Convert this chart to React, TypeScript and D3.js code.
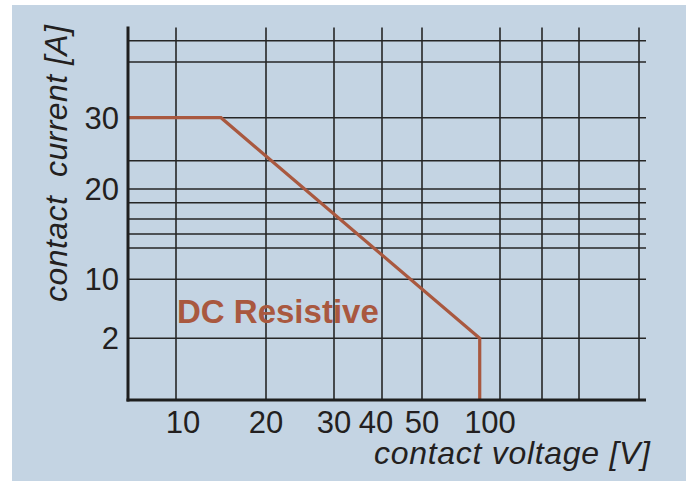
import React from 'react';
import * as d3 from 'd3';

// voltage knots of the (hand drawn, non uniform) x grid
const xGridValues = [10, 20, 30, 40, 50, 100, 150, 200, 300];
const xTickLabels = [10, 20, 30, 40, 50, 100];
// current knots of the y grid
const yGridValues = [2, 10, 12, 14, 16, 18, 20, 25, 30, 40, 50];
const yTickLabels = [2, 10, 20, 30];

// DC resistive load limit curve
const curveVoltage = [7, 15, 87, 87];
const curveCurrent = [30, 30, 2, 0];

const W = 696;
const H = 481;
const RED = '#a9583f';
const INK = '#231f20';

// pixel knots for the piecewise scales (drawing is not a true log scale)
const xDomain = [7, ...xGridValues, 320];
const xRange = [128, 176, 266, 334, 382, 422, 500, 542, 579, 639, 646];
const yDomain = [0, ...yGridValues, 55];
const yRange = [400, 338.3, 279.3, 248, 234, 219, 202.7, 189, 160.7, 117.7, 62, 40.7, 26.5];

// labels in the source sit a little off their grid lines
const tickNudge: Record<number, number> = { 10: 7, 40: -6, 100: -10 };

export default function App() {
  const x = d3.scaleLinear().domain(xDomain).range(xRange);
  const y = d3.scaleLinear().domain(yDomain).range(yRange);

  const pts = curveVoltage.map((v, i) => ({ v, a: curveCurrent[i] }));
  const line = d3.line<{ v: number; a: number }>()
    .x(d => x(d.v))
    .y(d => y(d.a));

  const x0 = x(xDomain[0]);
  const x1 = x(xDomain[xDomain.length - 1]);
  const y0 = y(0);
  const yTop = y(yDomain[yDomain.length - 1]);

  return (
    <div style={{ position: 'absolute', left: 0, top: 0 }}>
      <svg width={W} height={H} style={{ display: 'block', fontFamily: 'Liberation Sans, Arial, sans-serif' }}>
        <rect x={0} y={0} width={W} height={H} fill="#ffffff" />
        <rect x={12} y={5} width={674} height={H - 5} fill="#c4d4e3" />

        {/* horizontal grid */}
        {yGridValues.map(v => (
          <line key={'h' + v} x1={x0} x2={x1} y1={y(v)} y2={y(v)} stroke="#262626" strokeWidth={1.6} />
        ))}
        {/* vertical grid */}
        {xGridValues.map(v => (
          <line key={'v' + v} x1={x(v)} x2={x(v)} y1={yTop + 1} y2={y0} stroke="#262626" strokeWidth={1.6} />
        ))}

        {/* curve */}
        <path d={line(pts) || ''} fill="none" stroke={RED} strokeWidth={3.2} strokeLinejoin="miter" />

        {/* axes */}
        <line x1={x0} x2={x0} y1={yTop} y2={y0 + 1.5} stroke="#1e1e1e" strokeWidth={3} />
        <line x1={x0 - 1.5} x2={x1} y1={y0} y2={y0} stroke="#1e1e1e" strokeWidth={3} />

        {/* y tick labels */}
        {yTickLabels.map(v => (
          <text key={'yl' + v} x={119} y={y(v)} dy="0.36em" textAnchor="end" fontSize={31} fill={INK}>
            {v}
          </text>
        ))}
        {/* x tick labels */}
        {xTickLabels.map(v => (
          <text key={'xl' + v} x={x(v) + (tickNudge[v] || 0)} y={433} textAnchor="middle" fontSize={31} fill={INK}>
            {v}
          </text>
        ))}

        <text x={177} y={323} fontSize={33} fontWeight="bold" fill={RED}>DC Resistive</text>

        <text x={650} y={464} textAnchor="end" fontSize={32} fontStyle="italic" fill={INK}
          textLength={276} lengthAdjust="spacing">contact voltage [V]</text>

        <text transform="translate(67,302) rotate(-90)" fontSize={32} fontStyle="italic" fill={INK}
          textLength={277} lengthAdjust="spacing" style={{ whiteSpace: 'pre' }}>contact  current [A]</text>
      </svg>
    </div>
  );
}
